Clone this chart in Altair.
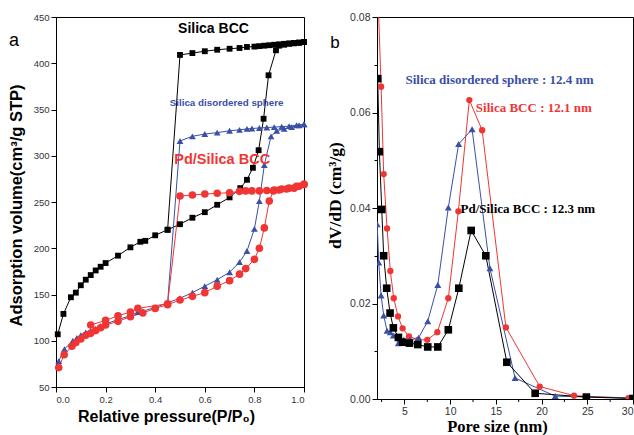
import altair as alt
import pandas as pd

# ---------------- (a) nitrogen sorption isotherms ----------------
bcc_ads_p = [0.007, 0.03, 0.06, 0.08, 0.10, 0.12, 0.14, 0.16, 0.18, 0.20, 0.25, 0.30, 0.34, 0.36,
             0.40, 0.45, 0.50, 0.55, 0.60, 0.65, 0.70, 0.743, 0.77, 0.794, 0.817, 0.837, 0.857,
             0.887, 0.90, 0.92, 0.94, 0.96, 0.98, 1.0]
bcc_ads_v = [107, 129, 147, 152, 160, 166, 171, 176, 180, 184, 192, 201, 207, 208,
             214, 220, 226, 233, 239, 247, 255, 265, 274, 287, 306, 340, 387,
             414, 419, 420, 421, 421.5, 422, 423]
bcc_des_p = [1.0, 0.98, 0.96, 0.94, 0.92, 0.90, 0.88, 0.86, 0.84, 0.82, 0.80, 0.77, 0.74,
             0.70, 0.65, 0.60, 0.55, 0.50, 0.45]
bcc_des_v = [423, 422.5, 422, 421.5, 421, 420.5, 420, 419.5, 419, 418.5, 418, 417.6, 416.5,
             415.7, 414.6, 413, 411, 409, 220]

sph_ads_p = [0.011, 0.034, 0.068, 0.084, 0.10, 0.12, 0.14, 0.16, 0.18, 0.20, 0.25, 0.30, 0.33,
             0.35, 0.40, 0.45, 0.50, 0.55, 0.60, 0.65, 0.70, 0.74, 0.77, 0.80, 0.82, 0.84,
             0.867, 0.89, 0.92, 0.95, 0.98, 1.0]
sph_ads_v = [78, 91, 100, 103, 106, 109, 111, 113, 116, 118, 123, 127, 131,
             132, 136, 141, 146, 152, 159, 166, 174, 185, 197, 221, 251, 290,
             321, 327, 329, 331, 333, 334]
sph_des_p = [1.0, 0.97, 0.94, 0.91, 0.88, 0.85, 0.82, 0.79, 0.77, 0.74, 0.70, 0.65, 0.60,
             0.55, 0.50, 0.45]
sph_des_v = [334, 333, 332, 331.5, 331, 330.5, 330, 329.5, 329, 328, 327, 325, 323.5,
             321, 316, 141]

pd_ads_p = [0.011, 0.033, 0.064, 0.08, 0.10, 0.12, 0.14, 0.16, 0.18, 0.20, 0.25, 0.30, 0.35,
            0.40, 0.45, 0.50, 0.55, 0.60, 0.65, 0.70, 0.74, 0.765, 0.80, 0.82, 0.84, 0.86,
            0.877, 0.90, 0.93, 0.96, 0.98, 1.0]
pd_ads_v = [71, 85, 94, 98, 102, 106, 108, 111, 114, 117, 121, 126, 130,
            135, 139, 144, 148, 152, 159, 165, 172, 178, 188, 200, 222, 251,
            262, 263, 264, 265, 267, 269]
pd_des_p = [1.0, 0.97, 0.94, 0.91, 0.88, 0.85, 0.82, 0.79, 0.765, 0.74, 0.70, 0.65, 0.60,
            0.55, 0.50, 0.45, 0.33, 0.30, 0.25, 0.20, 0.14]
pd_des_v = [269, 267, 265, 264, 263, 262.5, 262, 262, 262, 261.5, 260, 259.4, 258.6,
            257.6, 256.5, 140, 135, 131, 127, 122, 117]

# ---------------- (b) pore size distributions ----------------
psd_bcc_d = [2.1, 2.45, 2.73, 3.1, 3.46, 3.83, 4.3, 4.8, 5.5, 6.5, 7.5, 8.6, 9.8, 10.9,
             12.1, 13.5, 16.1, 19.8, 23.55, 29.5]
psd_bcc_v = [0.085, 0.0654, 0.0471, 0.0357, 0.0268, 0.0211, 0.0173, 0.0148, 0.0131, 0.0124,
             0.0124, 0.0140, 0.0211, 0.0393, 0.0626, 0.0563, 0.0150, 0.0026, 0.0007, 0.0002]
psd_sph_d = [2.02, 2.19, 2.45, 2.73, 3.1, 3.46, 3.79, 4.34, 4.93, 5.63, 6.54, 7.55, 8.65,
             9.8, 10.93, 12.4, 14.35, 17.1, 21.5, 30.0]
psd_sph_v = [0.0366, 0.0286, 0.0217, 0.0175, 0.0143, 0.0140, 0.0133, 0.0117, 0.0124, 0.0124,
             0.0128, 0.0163, 0.0239, 0.0401, 0.0534, 0.0565, 0.0274, 0.0044, 0.0006, 0.0002]
psd_pd_d = [2.08, 2.26, 2.52, 2.73, 3.06, 3.43, 3.79, 4.34, 4.8, 5.55, 6.46, 7.55, 8.65,
            9.8, 10.95, 12.3, 13.9, 16.2, 19.3, 24.9, 30.0]
psd_pd_v = [0.0671, 0.0518, 0.0397, 0.0300, 0.0232, 0.0180, 0.0149, 0.0129, 0.0119, 0.0117,
            0.0114, 0.0109, 0.0109, 0.0145, 0.0232, 0.0353, 0.0300, 0.0077, 0.0012, 0.0004,
            0.0001]

# axis tick positions for panel (b)
pore_major = [5, 10, 15, 20, 25, 30]
pore_minor = [2.5, 7.5, 12.5, 17.5, 22.5, 27.5]

samples = ["Silica BCC", "Silica disordered sphere", "Pd/Silica BCC"]
BLACK, BLUE, RED = "#000000", "#3a4fa6", "#f03535"
SANS, SERIF = "Liberation Sans", "Liberation Serif"


def frame(sample, seg, xs, ys, xname, yname):
    return pd.DataFrame({"sample": sample, "seg": seg, "idx": list(range(len(xs))),
                         xname: xs, yname: ys})


iso = pd.concat([
    frame("Silica BCC", "bcc-ads", bcc_ads_p, bcc_ads_v, "p", "v"),
    frame("Silica BCC", "bcc-des", bcc_des_p, bcc_des_v, "p", "v"),
    frame("Silica disordered sphere", "sph-ads", sph_ads_p, sph_ads_v, "p", "v"),
    frame("Silica disordered sphere", "sph-des", sph_des_p, sph_des_v, "p", "v"),
    frame("Pd/Silica BCC", "pd-ads", pd_ads_p, pd_ads_v, "p", "v"),
    frame("Pd/Silica BCC", "pd-des", pd_des_p, pd_des_v, "p", "v"),
])

psd = pd.concat([
    frame("Silica BCC", "bcc", psd_bcc_d, psd_bcc_v, "d", "dv"),
    frame("Silica disordered sphere", "sph", psd_sph_d, psd_sph_v, "d", "dv"),
    frame("Pd/Silica BCC", "pd", psd_pd_d, psd_pd_v, "d", "dv"),
])

# panel (a): black squares / blue triangles / red circles
iso_color = alt.Scale(domain=samples, range=[BLACK, BLUE, RED])
iso_shape = alt.Scale(domain=samples, range=["square", "triangle-up", "circle"])
iso_size = alt.Scale(domain=samples, range=[34, 58, 40])
# panel (b): Silica BCC in red circles, Pd/Silica BCC in black squares
psd_color = alt.Scale(domain=samples, range=[RED, BLUE, BLACK])
psd_shape = alt.Scale(domain=samples, range=["circle", "triangle-up", "square"])
psd_size = alt.Scale(domain=samples, range=[40, 58, 34])


def tick_size(test):
    return {"condition": {"test": test, "value": 5}, "value": 3}


common_axis = dict(domainColor="black", tickColor="black", labelColor="#333333",
                   labelFont=SANS, labelOverlap=False, grid=False, titleColor="black",
                   labelPadding=2)

# ---- left panel ----
x_iso = alt.X("p:Q", scale=alt.Scale(domain=[0, 1], nice=False),
              axis=alt.Axis(values=[i / 10 for i in range(11)],
                            labelExpr="round(datum.value*10) % 2 == 0 ? format(datum.value, '.1f') : ''",
                            tickSize=tick_size("round(datum.value*10) % 2 == 0"),
                            title="Relative pressure(P/P₀)", titleFont=SANS, titleFontSize=16,
                            titleFontWeight="bold", titleX=110, titleY=29,
                            titleBaseline="middle", titleAlign="center",
                            labelFontSize=9.5, **common_axis))
y_iso = alt.Y("v:Q", scale=alt.Scale(domain=[50, 450], nice=False),
              axis=alt.Axis(values=list(range(50, 451, 25)),
                            labelExpr="datum.value % 50 == 0 ? format(datum.value, 'd') : ''",
                            tickSize=tick_size("datum.value % 50 == 0"),
                            title="Adsorption volume(cm³/g STP)", titleFont=SANS,
                            titleFontSize=16.5, titleFontWeight="bold", titleX=-40, titleY=188,
                            titleBaseline="middle", titleAlign="center", titleAngle=270,
                            labelFontSize=9.5, **common_axis))

iso_base = alt.Chart(iso)
iso_lines = iso_base.mark_line(strokeWidth=1).encode(
    x=x_iso, y=y_iso,
    color=alt.Color("sample:N", scale=iso_color, legend=None),
    detail="seg:N", order="idx:Q")
iso_points = iso_base.mark_point(filled=True, opacity=1).encode(
    x=x_iso, y=y_iso,
    color=alt.Color("sample:N", scale=iso_color, legend=None),
    shape=alt.Shape("sample:N", scale=iso_shape, legend=None),
    size=alt.Size("sample:N", scale=iso_size, legend=None))


def note(text, x, y, color, size, font, weight="bold"):
    return alt.Chart(pd.DataFrame({"t": [text]})).mark_text(
        font=font, fontSize=size, fontWeight=weight, color=color,
        align="center", baseline="middle").encode(x=x, y=y, text="t:N")


left = alt.layer(
    iso_lines, iso_points,
    note("Silica BCC", alt.datum(0.635), alt.datum(437), BLACK, 14, SANS),
    note("Silica disordered sphere", alt.datum(0.688), alt.datum(357), BLUE, 9.8, SANS),
    note("Pd/Silica BCC", alt.datum(0.67), alt.datum(295), RED, 14.5, SANS),
    note("a", alt.value(-42), alt.value(24), BLACK, 18, SANS, "normal"),
).properties(width=248, height=370)

# ---- right panel ----
x_psd = alt.X("d:Q", scale=alt.Scale(domain=[2, 30], nice=False),
              axis=alt.Axis(values=pore_major, format="d", tickSize=5,
                            title="Pore size (nm)", titleFont=SERIF, titleFontSize=16.5,
                            titleFontWeight="bold", titleX=120, titleY=27,
                            titleBaseline="middle", titleAlign="center",
                            labelFontSize=10.5, **common_axis))
y_psd = alt.Y("dv:Q", scale=alt.Scale(domain=[0, 0.08], nice=False),
              axis=alt.Axis(values=[i / 100 for i in range(9)],
                            labelExpr="round(datum.value*100) % 2 == 0 ? format(datum.value, '.2f') : ''",
                            tickSize=tick_size("round(datum.value*100) % 2 == 0"),
                            title="dV/dD (cm³/g)", titleFont=SERIF, titleFontSize=17.5,
                            titleFontWeight="bold", titleX=-42, titleY=178,
                            titleBaseline="middle", titleAlign="center", titleAngle=270,
                            labelFontSize=10.5, **common_axis))

psd_base = alt.Chart(psd)
psd_lines = psd_base.mark_line(strokeWidth=1, clip=True).encode(
    x=x_psd, y=y_psd,
    color=alt.Color("sample:N", scale=psd_color, legend=None),
    detail="seg:N", order="idx:Q")
psd_points = psd_base.mark_point(filled=True, opacity=1, clip=True).encode(
    x=x_psd, y=y_psd,
    color=alt.Color("sample:N", scale=psd_color, legend=None),
    shape=alt.Shape("sample:N", scale=psd_shape, legend=None),
    size=alt.Size("sample:N", scale=psd_size, legend=None))

# short minor ticks below the pore-size axis
psd_minor = alt.Chart(pd.DataFrame({"d": pore_minor})).mark_rule(
    color="black", strokeWidth=1).encode(
    x=alt.X("d:Q"), y=alt.value(382), y2=alt.value(385))

right = alt.layer(
    psd_lines, psd_points, psd_minor,
    note("Silica disordered sphere : 12.4 nm", alt.datum(15.4), alt.datum(0.0668), BLUE, 13, SERIF),
    note("Silica BCC : 12.1 nm", alt.datum(19.15), alt.datum(0.0609), RED, 13, SERIF),
    note("Pd/Silica BCC : 12.3 nm", alt.datum(18.5), alt.datum(0.0398), BLACK, 13, SERIF),
    note("b", alt.value(-42), alt.value(26), BLACK, 17, SANS, "normal"),
).resolve_scale(color="independent", shape="independent", size="independent")
right = right.properties(width=256, height=382)

chart = alt.hconcat(left, right, spacing=16).resolve_scale(
    color="independent", shape="independent", size="independent"
).properties(
    padding={"left": 7, "top": 11, "right": 0, "bottom": 0}
).configure_view(stroke="black", strokeWidth=1)

chart.save("out.html", embed_options={"renderer": "svg", "actions": False})
